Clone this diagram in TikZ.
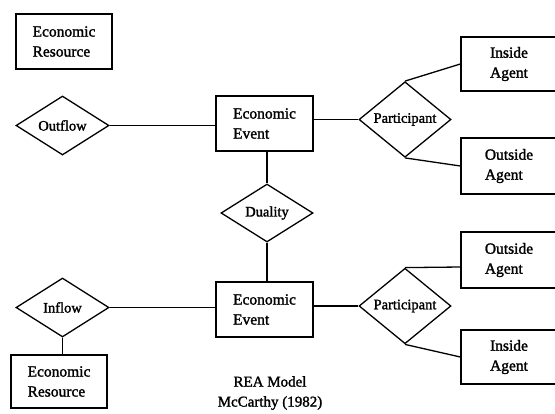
\documentclass[tikz,border=0pt]{standalone}
\usepackage{fontspec}
\setmainfont{Liberation Serif}[FakeBold=1.6]
\usetikzlibrary{shapes.geometric}
\begin{document}
\begin{tikzpicture}[x=1pt,y=-1pt,
  ent/.style={draw,line width=1.3pt,rectangle,inner sep=0pt,align=left,
    font=\fontsize{15.5}{20}\selectfont},
  rel/.style={draw,line width=1.3pt,diamond,inner sep=0pt,minimum width=93pt,
    minimum height=59pt,font=\fontsize{14.5}{17}\selectfont},
  link/.style={line width=1.3pt}]
\useasboundingbox (0,0) rectangle (555,413);
\clip (0,0) rectangle (555,413);
% entities
\node[ent,minimum width=96pt,minimum height=55pt] (er1) at (64,41.5) {Economic\\Resource};
\node[ent,minimum width=97pt,minimum height=55pt] (ev1) at (264.5,123.5) {Economic\\Event};
\node[ent,minimum width=97pt,minimum height=55pt] (ev2) at (264.5,309.5) {Economic\\Event};
\node[ent,minimum width=96pt,minimum height=53pt] (er2) at (59,381.5) {Economic\\Resource};
\node[ent,minimum width=96pt,minimum height=54pt] (ia1) at (509,64) {Inside\\Agent};
\node[ent,minimum width=96pt,minimum height=56pt] (oa1) at (509,166) {Outside\\Agent};
\node[ent,minimum width=96pt,minimum height=56pt] (oa2) at (509,260) {Outside\\Agent};
\node[ent,minimum width=96pt,minimum height=54pt] (ia2) at (509,357) {Inside\\Agent};
% relationships
\node[rel] (out) at (62.5,125.5) {Outflow};
\node[rel] (inf) at (62.5,307.5) {Inflow};
\node[rel,minimum width=92pt,minimum height=58pt] (dua) at (267,213) {Duality};
\node[rel,minimum width=92pt] (par1) at (405,119.5) {Participant};
\node[rel,minimum width=92pt,minimum height=58pt] (par2) at (405,306) {Participant};
% connectors
\draw[link] (out.east) -- (out.east -| ev1.west);
\draw[link] (inf.east) -- (inf.east -| ev2.west);
\draw[link] (inf.south) -- (inf.south |- er2.north);
\draw[link] (ev1.south -| dua.north) -- (dua.north);
\draw[link] (dua.south) -- (dua.south |- ev2.north);
\draw[link] (par1.west -| ev1.east) -- (par1.west);
\draw[link] (par2.west -| ev2.east) -- (par2.west);
\draw[link] (par1.north) -- (ia1.west);
\draw[link] (par1.south) -- (oa1.west);
\draw[link] (par2.north) -- ([yshift=-7pt]oa2.west);
\draw[link] (par2.south) -- (ia2.west);
% caption
\node[align=center,font=\fontsize{15}{20}\selectfont] (cap) at (270,393) {REA Model\\McCarthy (1982)};
\end{tikzpicture}
\end{document}
